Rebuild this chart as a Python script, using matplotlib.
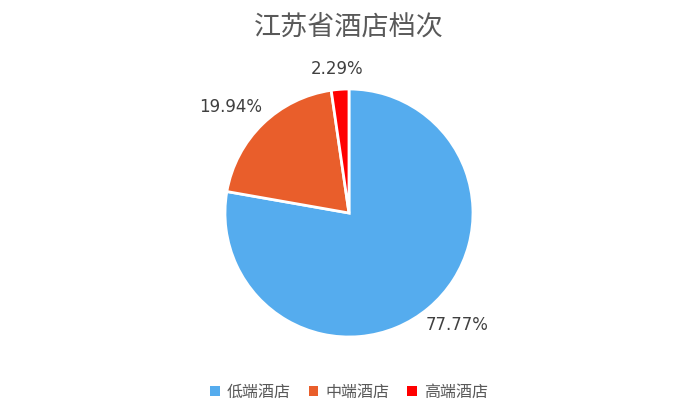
import numpy as np
import matplotlib.pyplot as plt
from matplotlib.patches import Patch

plt.rcParams['font.family'] = ['Noto Sans CJK SC', 'DejaVu Sans']

categories = ['低端酒店', '中端酒店', '高端酒店']
shares = [77.77, 19.94, 2.29]
colors = ['#55acee', '#e95e2b', '#ff0000']
# label placement: radial distance and small angle nudge (deg)
label_dist = [1.26, 1.285, 1.165]
label_nudge = [4, 4, 0.7]

fig = plt.figure(figsize=(7, 4.2), dpi=100)
ax = fig.add_axes([0.3214, 0.1976, 0.3543, 0.5905])

wedges, _ = ax.pie(shares, colors=colors, startangle=90, counterclock=False,
                   wedgeprops=dict(edgecolor='white', linewidth=2))
ax.set_xlim(-1, 1)
ax.set_ylim(-1, 1)
ax.set_aspect('equal')

for w, v, d, n in zip(wedges, shares, label_dist, label_nudge):
    ang = np.deg2rad((w.theta1 + w.theta2) / 2 + n)
    ax.text(d * np.cos(ang), d * np.sin(ang), '%.2f%%' % v, ha='center', va='center',
            fontsize=12, color='#404040', family=['DejaVu Sans'])

fig.text(0.4986, 0.935, '江苏省酒店档次', ha='center', va='center', fontsize=19.5, color='#595959')

handles = [Patch(facecolor=c, edgecolor='none') for c in colors]
fig.legend(handles, categories, loc='center', bbox_to_anchor=(0.4986, 0.067), ncol=3,
           frameon=False, fontsize=11.5, handlelength=0.6, handleheight=0.6,
           handletextpad=0.45, columnspacing=1.1, labelcolor='#595959')

fig.savefig('out.png')
